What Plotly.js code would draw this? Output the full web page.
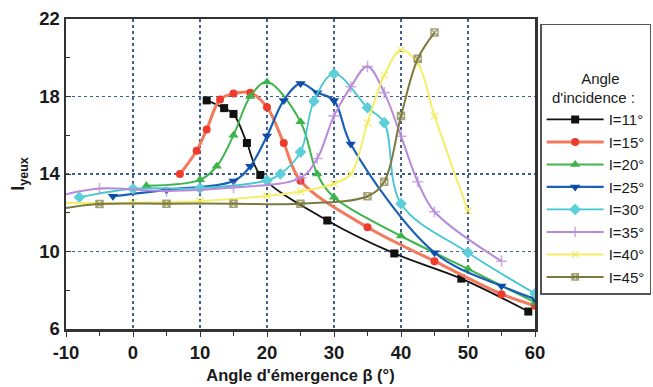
<!DOCTYPE html>
<html>
<head>
<meta charset="utf-8">
<script src="https://cdn.plot.ly/plotly-3.0.1.min.js"></script>
<style>html,body{margin:0;padding:0;background:#fff;}#chart{width:653px;height:387px;}</style>
</head>
<body>
<div id="chart"></div>
<script>
// Data
const seriesNames = ['I=11°','I=15°','I=20°','I=25°','I=30°','I=35°','I=40°','I=45°'];

const x11 = [11, 13.6, 15, 17, 19, 29, 39, 49, 59];
const y11 = [17.8, 17.4, 17.1, 15.6, 13.95, 11.6, 9.9, 8.6, 6.9];

const x15 = [7, 9.5, 11, 13, 15, 17.5, 20, 22.5, 25, 35, 45, 55, 60];
const y15 = [14.0, 15.2, 16.3, 17.85, 18.15, 18.2, 17.45, 15.6, 13.65, 11.25, 9.5, 7.8, 7.2];

const x20 = [2, 10, 12.5, 15, 17.5, 20, 25, 27.5, 30, 40, 50, 60];
const y20 = [13.4, 13.7, 14.4, 16.0, 18.0, 18.75, 16.7, 14.0, 12.8, 10.8, 9.1, 7.37];

const x25 = [-3, 5, 15, 17.5, 20, 22.5, 25, 27.5, 30, 32.5, 45, 55, 60];
const y25 = [12.85, 13.18, 13.64, 14.4, 15.96, 17.8, 18.67, 18.2, 17.8, 15.55, 9.94, 8.22, 7.55];

const x30 = [-8, 0, 10, 20, 22, 25, 27, 30, 35, 37.5, 40, 50, 60];
const y30 = [12.8, 13.24, 13.27, 13.67, 14.0, 15.13, 17.76, 19.18, 17.42, 16.65, 12.47, 9.94, 7.83];

const x35 = [-10, -5, 5, 15, 25, 27.5, 30, 32.5, 35, 37.5, 40, 42.5, 45, 55];
const y35 = [12.95, 13.25, 13.12, 13.3, 13.8, 14.8, 17.0, 18.5, 19.55, 18.2, 15.95, 13.6, 12.05, 9.5];

const x40 = [-10, 0, 10, 20, 25, 30, 32.5, 35, 37.5, 40, 42.5, 45, 50];
const y40 = [12.5, 12.52, 12.6, 12.87, 13.1, 13.5, 14.0, 16.64, 19.1, 20.4, 19.7, 17.0, 12.1];

const x45 = [-10, -5, 5, 15, 25, 35, 37.5, 40, 42.5, 45];
const y45 = [12.25, 12.45, 12.47, 12.47, 12.47, 12.85, 13.6, 17.0, 19.95, 21.3];

const xTickVals = [-10, 0, 10, 20, 30, 40, 50, 60];
const yTickVals = [6, 10, 14, 18, 22];

function sizes(xs, s, hideFirst) {
  return xs.map((v, i) => (hideFirst && i === 0) ? 0 : s);
}

const styles = [
  {x: x11, y: y11, line: {color: '#111111', width: 1.8}, marker: {symbol: 'square', color: '#111111', size: 8}},
  {x: x15, y: y15, line: {color: '#f37a5c', width: 3}, marker: {symbol: 'circle', color: '#ee3b2b', size: 8}},
  {x: x20, y: y20, line: {color: '#3fb54c', width: 2}, marker: {symbol: 'triangle-up', color: '#3cb44b', size: 9}},
  {x: x25, y: y25, line: {color: '#1a60b6', width: 2.2}, marker: {symbol: 'triangle-down', color: '#0f4ea6', size: 9}},
  {x: x30, y: y30, line: {color: '#45c6d2', width: 1.8}, marker: {symbol: 'diamond', color: '#5dcfdb', size: 9}},
  {x: x35, y: y35, line: {color: '#b68bd9', width: 2}, marker: {symbol: 'cross-thin-open', color: '#b68bd9', size: sizes(x35, 8, true), line: {width: 1.6, color: '#b68bd9'}}},
  {x: x40, y: y40, line: {color: '#f4ee6a', width: 2}, marker: {symbol: 'x-thin-open', color: '#f0e85a', size: sizes(x40, 7, true), line: {width: 1.6, color: '#f0e85a'}}},
  {x: x45, y: y45, line: {color: '#7d7a40', width: 2}, marker: {symbol: 'square-x-open', color: '#7d7a40', size: sizes(x45, 7, true), line: {width: 1.5, color: '#7d7a40'}}}
];

const traces = styles.map((s, i) => ({
  type: 'scatter',
  mode: 'lines+markers',
  name: seriesNames[i],
  x: s.x,
  y: s.y,
  line: Object.assign({shape: 'spline', smoothing: 1}, s.line),
  marker: s.marker
}));

const gridColor = '#40608c';
const boldFont = 'Liberation Sans Narrow, Liberation Sans, Arial, sans-serif';
const NB = '\u00a0';
const layout = {
  width: 653,
  height: 387,
  margin: {l: 66, r: 118, t: 19, b: 58, autoexpand: false},
  paper_bgcolor: '#ffffff',
  plot_bgcolor: '#ffffff',
  font: {family: 'Liberation Sans, Arial, sans-serif', color: '#1a1a1a'},
  xaxis: {
    range: [-10, 60],
    tickvals: xTickVals,
    ticktext: xTickVals.map(String),
    showgrid: true,
    gridcolor: gridColor,
    griddash: 'dot',
    gridwidth: 1.2,
    zeroline: false,
    showline: true,
    linecolor: '#333333',
    linewidth: 2.5,
    mirror: true,
    ticks: 'outside',
    ticklen: 5,
    tickcolor: '#333333',
    minor: {dtick: 5, ticks: 'outside', ticklen: 4, tickcolor: '#333333', showgrid: false},
    tickfont: {size: 18.5, weight: 'bold', family: boldFont},
    title: {text: "Angle d'émergence β (°)", font: {size: 16.5, weight: 'bold', family: boldFont}, standoff: 8}
  },
  yaxis: {
    range: [6, 22],
    tickvals: yTickVals,
    ticktext: yTickVals.map(String),
    showgrid: true,
    gridcolor: gridColor,
    griddash: 'dot',
    gridwidth: 1.2,
    zeroline: false,
    showline: true,
    linecolor: '#333333',
    linewidth: 2.5,
    mirror: true,
    ticks: 'inside',
    ticklen: 5,
    tickcolor: '#333333',
    minor: {dtick: 2, ticks: 'inside', ticklen: 4, tickcolor: '#333333', showgrid: false},
    tickfont: {size: 18.5, weight: 'bold', family: boldFont},
    title: {text: 'I<sub>yeux</sub>', font: {size: 18, weight: 'bold', family: boldFont}, standoff: 10}
  },
  showlegend: true,
  legend: {
    x: 1.011,
    y: 0.985,
    xanchor: 'left',
    yanchor: 'top',
    bgcolor: '#ffffff',
    bordercolor: '#555555',
    borderwidth: 1.5,
    itemwidth: 57,
    font: {size: 15, family: 'Liberation Sans, Arial, sans-serif', color: '#1a1a1a'},
    title: {text: NB + '<br>' + NB + '<br>' + NB.repeat(9) + 'Angle<br>' + NB.repeat(2) + "d'incidence :", side: 'top', font: {size: 15, family: 'Liberation Sans, Arial, sans-serif'}}
  }
};

Plotly.newPlot('chart', traces, layout, {displayModeBar: false, staticPlot: true});
</script>
</body>
</html>
